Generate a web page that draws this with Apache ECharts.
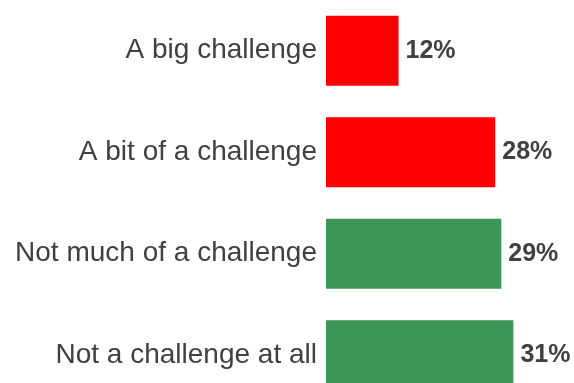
<!DOCTYPE html>
<html>
<head>
<meta charset="utf-8">
<style>
  html, body { margin: 0; padding: 0; background: #ffffff; }
  #chart { width: 574px; height: 383px; }
</style>
<script src="https://cdn.jsdelivr.net/npm/echarts@6/dist/echarts.min.js"></script>
</head>
<body>
<div id="chart"></div>
<script>
// Survey answers, top to bottom
const categories = [
  'A big challenge',
  'A bit of a challenge',
  'Not much of a challenge',
  'Not a challenge at all'
];
// Share of respondents, percent
const shares = [12, 28, 29, 31];

const RED = '#ff0000';
const GREEN = '#3c9658';
const TEXT = '#404040';

const chart = echarts.init(document.getElementById('chart'), null, { renderer: 'canvas' });

chart.setOption({
  animation: false,
  backgroundColor: '#ffffff',
  // the last band runs past the bottom edge of the canvas
  grid: {
    left: 326, top: 0, width: 241.8, height: 406,
    containLabel: false,
    outerBoundsMode: 'none'
  },
  xAxis: {
    type: 'value',
    min: 0,
    max: 40,
    show: false
  },
  yAxis: {
    type: 'category',
    data: categories,
    inverse: true,
    axisLine: { show: false },
    axisTick: { show: false },
    splitLine: { show: false },
    axisLabel: {
      color: TEXT,
      fontFamily: 'Liberation Sans, Arial, sans-serif',
      fontSize: 28,
      margin: 9
    }
  },
  series: [{
    type: 'bar',
    data: shares,
    barWidth: 70,
    itemStyle: {
      // the two "challenge" answers in red, the others in green
      color: (p) => (p.dataIndex < 2 ? RED : GREEN)
    },
    label: {
      show: true,
      position: 'right',
      distance: 7,
      formatter: '{c}%',
      color: TEXT,
      fontFamily: 'Liberation Sans, Arial, sans-serif',
      fontWeight: 'bold',
      fontSize: 25
    }
  }]
});
</script>
</body>
</html>
